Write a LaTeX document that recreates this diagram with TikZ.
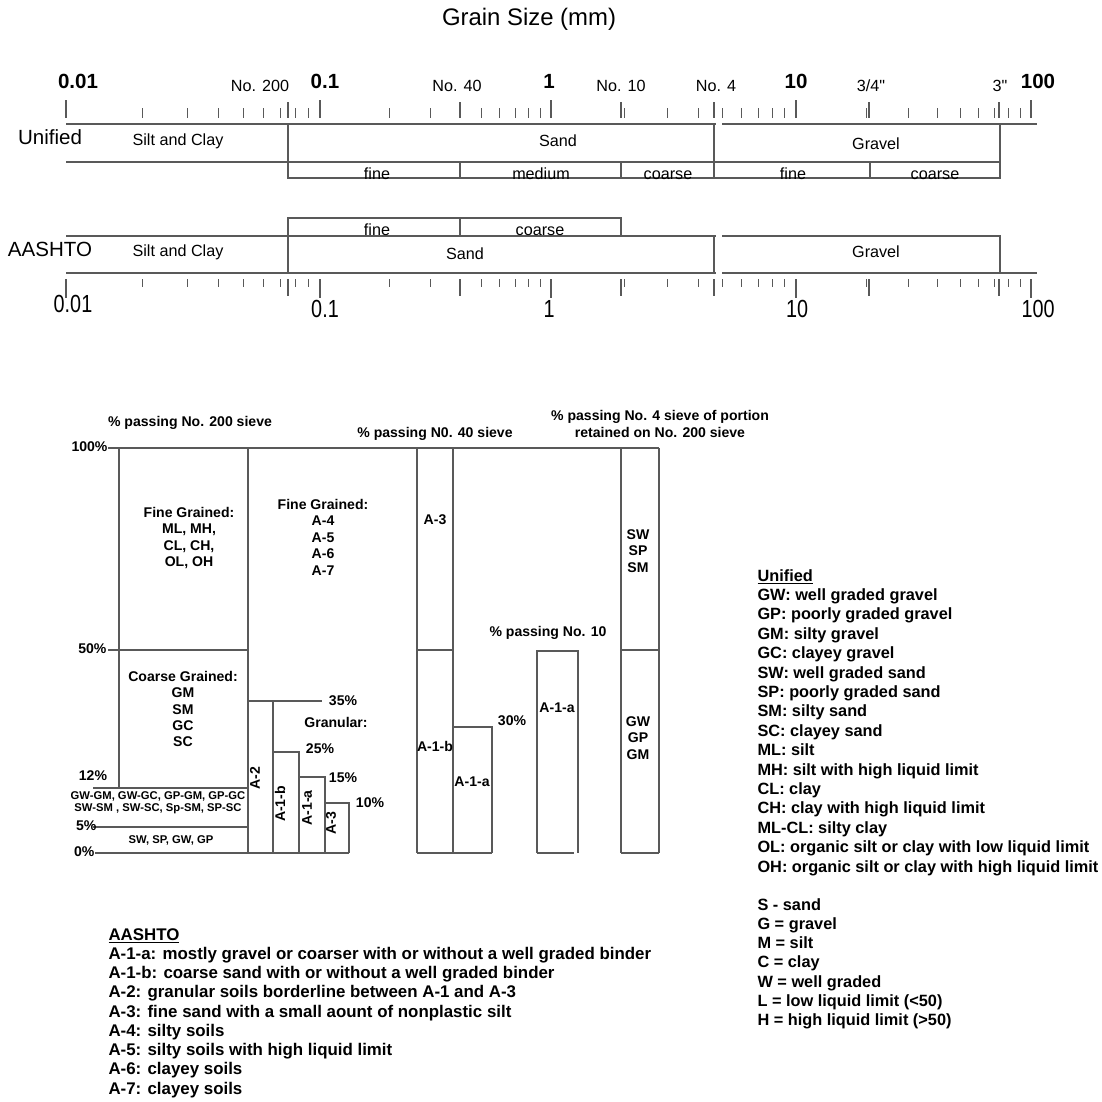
\documentclass[tikz,border=0pt]{standalone}
\usepackage{fontspec}
\setmainfont{Liberation Sans}[Ligatures=TeXOff]
\newfontfamily\narrowsans{Liberation Sans}[FakeStretch=0.8]
\begin{document}
\begin{tikzpicture}[x=0.025cm,y=-0.025cm,line width=0.75pt,
    ln/.style={draw=black!65},
    lbl/.style={inner sep=0pt,anchor=base,font=\fontsize{11.5}{13}\selectfont},
    sys/.style={inner sep=0pt,anchor=base,font=\fontsize{14.6}{16}\selectfont},
    big/.style={inner sep=0pt,anchor=base,font=\fontsize{14.6}{16}\selectfont\bfseries},
    low/.style={inner sep=0pt,anchor=base,font=\fontsize{17.6}{19}\selectfont\narrowsans},
    chart/.style={inner sep=0pt,align=center,font=\fontsize{10}{11.7}\selectfont\bfseries},
    tiny/.style={inner sep=0pt,align=center,font=\fontsize{8}{8.6}\selectfont\bfseries},
    leg/.style={inner sep=0pt,anchor=base west,font=\fontsize{11.6}{13}\selectfont\bfseries}]
  \useasboundingbox (0,0) rectangle (1102,1101);
  \node[font=\fontsize{17}{19}\selectfont] (title) at (529,19) {Grain Size (mm)};
  % log scale ticks, top and bottom
  \foreach \a/\b in {66/320,320/551,551/796,796/1031} {
    \foreach \m in {2,...,9} {
      \draw[ln] ({\a+(\b-\a)*ln(\m)/2.302585},108) -- ++(0,10);
      \draw[ln] ({\a+(\b-\a)*ln(\m)/2.302585},279) -- ++(0,8);
    }
  }
  \foreach \x in {66,320,551,796,1031} {
    \draw[ln] (\x,100) -- (\x,118);
    \draw[ln] (\x,279) -- (\x,298);
  }
  \foreach \x in {288,460,621,714,869,999} {
    \draw[ln] (\x,102) -- (\x,118);
    \draw[ln] (\x,279) -- (\x,296);
  }
  \foreach \x/\t [count=\i] in {78/0.01,325/0.1,549/1,796/10,1038/100}
    \node[big] (top\i) at (\x,88) {\t};
  \foreach \x/\t [count=\i] in {260/No. 200,457/No. 40,621/No. 10,716/No. 4,1000/3"}
    \node[lbl] (sv\i) at (\x,91) {\t};
  \node[lbl] (sv6) at (871,91) {3/4"};
  \node[low] (bot1) at (73,312) {0.01};
  \foreach \x/\t [count=\i from 2] in {325/0.1,549/1,797/10,1038/100}
    \node[low] (bot\i) at (\x,317) {\t};
  % Unified bar
  \draw[ln] (66,124) -- (716,124) (722,124) -- (1037,124);
  \draw[ln] (66,162) -- (1000,162);
  \draw[ln] (288,124) -- (288,178) -- (1000,178) -- (1000,124);
  \draw[ln] (714,124) -- (714,178);
  \foreach \x in {460,621,870} \draw[ln] (\x,162) -- (\x,178);
  \node[sys] (uni) at (50,144) {Unified};
  \node[lbl] (usc) at (178,145) {Silt and Clay};
  \node[lbl] (usa) at (558,146) {Sand};
  \node[lbl] (ugr) at (876,149) {Gravel};
  \foreach \x/\t [count=\i] in {377/fine,541/medium,668/coarse,793/fine,935/coarse}
    \node[lbl] (usub\i) at (\x,179) {\t};
  % AASHTO bar
  \draw[ln] (288,273) -- (288,218) -- (621,218) -- (621,236);
  \draw[ln] (460,218) -- (460,236);
  \draw[ln] (66,236) -- (716,236) (722,236) -- (1000,236) -- (1000,273);
  \draw[ln] (66,273) -- (716,273) (722,273) -- (1037,273);
  \draw[ln] (714,236) -- (714,273);
  \node[sys] (aas) at (50,256) {AASHTO};
  \node[lbl] (asc) at (178,256) {Silt and Clay};
  \node[lbl] (asa) at (465,259) {Sand};
  \node[lbl] (agr) at (876,257) {Gravel};
  \node[lbl] (afi) at (377,235) {fine};
  \node[lbl] (aco) at (540,235) {coarse};
  % classification chart
  \draw[ln] (108,448) -- (659,448);
  \foreach \x in {248,417,453,621,659} \draw[ln] (\x,448) -- (\x,853);
  \draw[ln] (119,448) -- (119,788);
  \draw[ln] (108,650) -- (248,650) (417,650) -- (453,650) (621,650) -- (659,650);
  \draw[ln] (93,788) -- (248,788) (93,827) -- (248,827) (95,853) -- (349,853);
  \draw[ln] (248,701) -- (322,701) (273,701) -- (273,853);
  \draw[ln] (273,752) -- (299,752) -- (299,853);
  \draw[ln] (299,777) -- (325,777) -- (325,853);
  \draw[ln] (325,803) -- (349,803) -- (349,853);
  \draw[ln] (453,727) -- (492,727) -- (492,853) (417,853) -- (492,853);
  \draw[ln] (537,853) -- (537,651) -- (578,651) -- (578,853) (537,853) -- (574,853);
  \draw[ln] (621,853) -- (659,853);
  \node[chart] (p200) at (190,423) {\% passing No. 200 sieve};
  \node[chart] (p40) at (435,434) {\% passing N0. 40 sieve};
  \node[chart] (p4) at (660,424) {\% passing No. 4 sieve of portion\\retained on No. 200 sieve};
  \node[chart] (p10) at (548,633) {\% passing No. 10};
  \node[chart,anchor=east] (c100) at (108,447) {100\%};
  \node[chart,anchor=east] (c50) at (107,649) {50\%};
  \node[chart] (c12) at (93,776) {12\%};
  \node[chart,anchor=east] (c5) at (97,826) {5\%};
  \node[chart,anchor=east] (c0) at (95,852) {0\%};
  \node[chart] (ufine) at (189,538) {Fine Grained:\\ML, MH,\\CL, CH,\\OL, OH};
  \node[chart] (ucoarse) at (183,709) {Coarse Grained:\\GM\\SM\\GC\\SC};
  \node[tiny] (udual) at (158,803) {GW-GM, GW-GC, GP-GM, GP-GC\\SW-SM , SW-SC, Sp-SM, SP-SC};
  \node[tiny] (uclean) at (171,840) {SW, SP, GW, GP};
  \node[chart] (afine) at (323,537) {Fine Grained:\\A-4\\A-5\\A-6\\A-7};
  \node[chart] (gran) at (336,722) {Granular:};
  \node[chart] (l35) at (343,701) {35\%};
  \node[chart] (l25) at (320,749) {25\%};
  \node[chart] (l15) at (343,778) {15\%};
  \node[chart] (l10) at (370,803) {10\%};
  \node[chart,rotate=90] (ra2) at (255,778) {A-2};
  \node[chart,rotate=90] (ra1b) at (280,804) {A-1-b};
  \node[chart,rotate=90] (ra1a) at (307,808) {A-1-a};
  \node[chart,rotate=90] (ra3) at (331,823) {A-3};
  \node[chart] (na3) at (435,520) {A-3};
  \node[chart] (na1b) at (435,746) {A-1-b};
  \node[chart] (na1a) at (472,782) {A-1-a};
  \node[chart] (l30) at (512,721) {30\%};
  \node[chart] (ta1a) at (557,708) {A-1-a};
  \node[chart] (ssand) at (638,551) {SW\\SP\\SM};
  \node[chart] (sgrav) at (638,738) {GW\\GP\\GM};
  % legends
  \node[leg] (uhead) at (757,581) {\underline{Unified}};
  \foreach \t [count=\k] in {GW: well graded gravel,GP: poorly graded gravel,
      GM: silty gravel,GC: clayey gravel,SW: well graded sand,SP: poorly graded sand,
      SM: silty sand,SC: clayey sand,ML: silt,MH: silt with high liquid limit,CL: clay,
      CH: clay with high liquid limit,ML-CL: silty clay,
      OL: organic silt or clay with low liquid limit,
      OH: organic silt or clay with high liquid limit}
    \node[leg] (u\k) at (757,{581+19.4*\k}) {\t};
  \foreach \t [count=\k from 0] in {S - sand,G = gravel,M = silt,C = clay,W = well graded,
      L = low liquid limit (<50),H = high liquid limit (>50)}
    \node[leg] (s\k) at (757,{910+19.3*\k}) {\t};
  \node[leg,font=\fontsize{12}{13}\selectfont\bfseries] (ahead) at (108,940) {\underline{AASHTO}};
  \foreach \t [count=\k] in {A-1-a: mostly gravel or coarser with or without a well graded binder,
      A-1-b: coarse sand with or without a well graded binder,
      A-2: granular soils borderline between A-1 and A-3,
      A-3: fine sand with a small aount of nonplastic silt,
      A-4: silty soils,A-5: silty soils with high liquid limit,
      A-6: clayey soils,A-7: clayey soils}
    \node[leg,font=\fontsize{12}{13}\selectfont\bfseries] (a\k) at (108,{940+19.25*\k}) {\t};
\end{tikzpicture}
\end{document}
